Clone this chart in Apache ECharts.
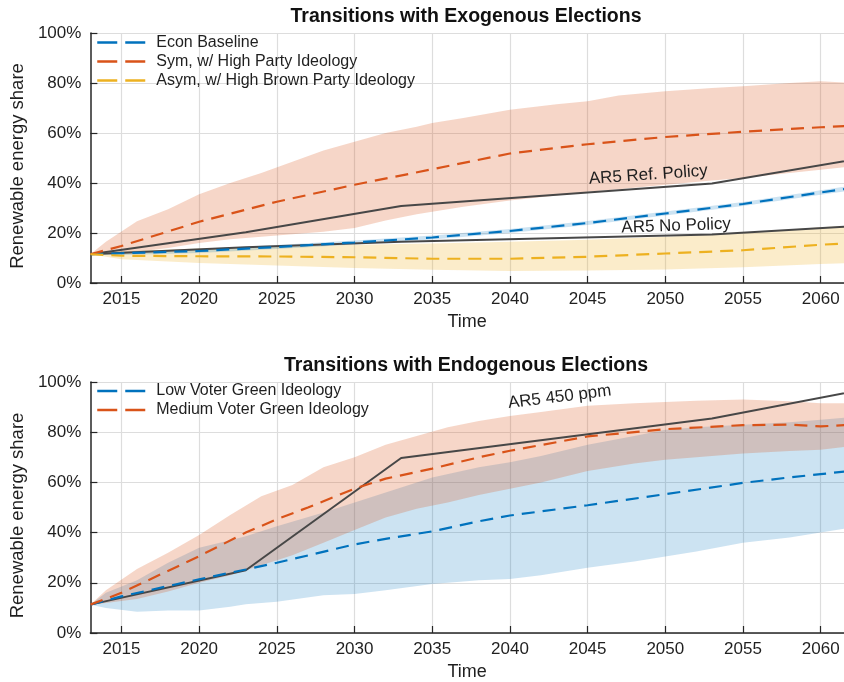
<!DOCTYPE html>
<html>
<head>
<meta charset="utf-8">
<script src="https://cdn.jsdelivr.net/npm/echarts@6/dist/echarts.min.js"></script>
<style>
  html, body { margin: 0; padding: 0; background: #fff; }
  #chart { width: 844px; height: 682px; }
</style>
</head>
<body>
<div id="chart"></div>
<script>
// ---------- Exogenous elections (top panel) ----------
const exoYears       = [2013, 2015, 2020, 2025, 2030, 2035, 2040, 2045, 2050, 2055, 2060, 2062];
const econBaseline   = [11.5, 11.9, 12.8, 14.4, 16.2, 18.2, 20.8, 24.0, 27.8, 31.6, 36.2, 38.0];
const econBaseLo     = [11.5, 11.2, 12.0, 13.6, 15.4, 17.4, 20.0, 23.2, 27.0, 30.8, 35.3, 37.0];
const econBaseHi     = [11.5, 12.6, 13.6, 15.2, 17.0, 19.0, 21.6, 24.8, 28.6, 32.4, 37.1, 39.0];
const symHighParty   = [11.5, 14.8, 24.5, 32.5, 39.3, 45.5, 51.8, 55.5, 58.4, 60.5, 62.3, 62.9];
const asymHighBrown  = [11.5, 10.9, 10.7, 10.6, 10.3, 9.7, 9.7, 10.5, 11.8, 13.1, 15.3, 16.0];

const symBandYears   = [2013, 2014, 2016, 2018, 2020, 2022, 2024, 2026, 2028, 2030, 2032, 2034, 2035, 2037, 2040, 2043, 2045, 2047, 2050, 2053, 2055, 2058, 2060, 2062];
const symBandLo      = [11.5, 12.0, 12.5, 14.0, 16.0, 17.5, 18.5, 19.5, 20.5, 22.0, 25.0, 27.5, 28.5, 30.5, 33.0, 35.0, 36.5, 37.5, 39.3, 41.0, 42.0, 44.0, 45.3, 46.7];
const symBandHi      = [11.5, 16.5, 24.7, 29.5, 35.5, 40.0, 44.0, 48.5, 53.0, 56.5, 60.0, 62.5, 64.0, 66.0, 69.3, 71.5, 72.7, 75.0, 76.7, 78.0, 78.7, 80.0, 80.7, 80.0];

const asymBandYears  = [2013, 2015, 2020, 2025, 2030, 2035, 2040, 2045, 2050, 2055, 2060, 2062];
const asymBandLo     = [11.5, 9.5, 8.0, 7.0, 6.0, 5.3, 4.8, 5.0, 5.4, 6.3, 7.6, 8.0];
const asymBandHi     = [11.5, 12.8, 13.8, 14.5, 15.3, 15.8, 16.5, 17.3, 18.5, 20.0, 22.3, 23.0];

const ar5RefYears    = [2013, 2023, 2033, 2053, 2063];
const ar5RefPolicy   = [11.5, 20.3, 30.8, 39.8, 50.3];
const ar5NoPolicy    = [11.5, 14.3, 16.5, 19.4, 23.0];

// ---------- Endogenous elections (bottom panel) ----------
const endoYears      = [2013, 2015, 2020, 2023, 2025, 2027, 2030, 2032, 2035, 2038, 2040, 2045, 2050, 2055, 2058, 2060, 2062];
const lowVoter       = [11.3, 14.6, 21.4, 25.3, 28.0, 30.9, 35.3, 37.5, 40.5, 44.5, 46.8, 50.9, 55.3, 59.8, 62.0, 63.3, 64.6];
const mediumVoter    = [11.3, 16.0, 30.6, 40.0, 45.3, 50.0, 57.5, 61.5, 65.5, 70.0, 72.6, 78.3, 81.2, 82.8, 83.0, 82.3, 83.0];

const lowBandYears   = [2013, 2014, 2016, 2018, 2020, 2022, 2023, 2025, 2028, 2030, 2032, 2035, 2038, 2040, 2042, 2045, 2048, 2050, 2052, 2055, 2058, 2060, 2062];
const lowBandLo      = [11.3, 10.0, 8.5, 9.0, 9.0, 10.5, 11.5, 12.5, 15.0, 15.5, 17.0, 19.5, 21.0, 21.5, 23.0, 26.0, 28.5, 30.5, 32.5, 36.0, 38.0, 40.0, 42.0];
const lowBandHi      = [11.3, 16.0, 21.0, 28.0, 34.0, 37.0, 38.5, 42.5, 48.0, 52.0, 56.0, 62.0, 66.0, 68.0, 70.5, 75.0, 78.5, 81.0, 82.0, 83.0, 84.0, 85.0, 86.0];

const medBandYears   = [2013, 2014, 2016, 2018, 2020, 2022, 2024, 2026, 2028, 2030, 2032, 2034, 2036, 2038, 2040, 2042, 2045, 2048, 2050, 2052, 2055, 2058, 2060, 2062];
const medBandLo      = [11.3, 12.0, 13.5, 16.5, 20.0, 23.0, 27.0, 31.0, 36.0, 41.0, 46.0, 49.5, 52.0, 55.0, 57.5, 60.0, 64.5, 67.5, 69.0, 70.0, 71.5, 72.5, 73.0, 74.5];
const medBandHi      = [11.3, 17.0, 25.5, 32.0, 39.0, 47.0, 54.5, 59.0, 66.0, 70.0, 75.0, 78.5, 82.0, 84.5, 86.5, 88.0, 90.5, 91.5, 92.0, 92.5, 93.0, 92.3, 91.5, 91.5];

const ar5450Years    = [2013, 2023, 2033, 2053, 2063];
const ar5450ppm      = [11.3, 25.0, 69.7, 85.5, 97.3];

// ---------- Axis ticks ----------
const yearTicks  = [2015, 2020, 2025, 2030, 2035, 2040, 2045, 2050, 2055, 2060];
const shareTicks = [0, 20, 40, 60, 80, 100];

// ---------- Styling ----------
const FONT = 'Liberation Sans, Arial, Helvetica, sans-serif';
const INK = '#1f1f1f';
const AXIS = '#262626';
const GRIDLINE = '#dddddd';
const BLUE = '#0072BD', RED = '#D95319', YELLOW = '#EDB120', DARK = '#474747';
const DASH = [13, 8];

const pairs = (xs, ys) => xs.map((x, i) => [x, ys[i]]);

function band(idx, years, lo, hi, fill, z) {
  return {
    type: 'custom', xAxisIndex: idx, yAxisIndex: idx, silent: true, z: z,
    data: years.map((y, i) => [y, lo[i], hi[i]]),
    encode: { x: 0, y: [1, 2] },
    renderItem: function (params, api) {
      if (params.dataIndex !== 0) return null;
      const pts = [];
      for (let i = 0; i < years.length; i++) pts.push(api.coord([years[i], hi[i]]));
      for (let i = years.length - 1; i >= 0; i--) pts.push(api.coord([years[i], lo[i]]));
      return { type: 'polygon', shape: { points: pts }, style: { fill: fill } };
    }
  };
}

function dashed(idx, name, years, values, color) {
  return {
    type: 'line', name: name, xAxisIndex: idx, yAxisIndex: idx, z: 4,
    data: pairs(years, values), symbol: 'none', showSymbol: false,
    lineStyle: { color: color, width: 2.2, type: DASH },
    itemStyle: { color: color }
  };
}

function reference(idx, name, years, values, labelAt, rotate) {
  return {
    type: 'line', name: name, xAxisIndex: idx, yAxisIndex: idx, z: 3,
    data: pairs(years, values), symbol: 'none', showSymbol: false,
    lineStyle: { color: DARK, width: 2 },
    itemStyle: { color: DARK },
    markPoint: {
      symbol: 'circle', symbolSize: 0, silent: true,
      data: [{ coord: labelAt }],
      label: {
        show: true, position: 'inside', formatter: name, rotate: rotate,
        fontFamily: FONT, fontSize: 17, color: INK
      }
    }
  };
}

function xAxis(idx) {
  return {
    type: 'value', gridIndex: idx, min: 2013, max: 2061.5,
    name: 'Time', nameLocation: 'middle', nameGap: 30,
    nameTextStyle: { fontFamily: FONT, fontSize: 18, color: INK },
    axisLine: { show: true, onZero: false, lineStyle: { color: AXIS, width: 1.5 } },
    axisTick: { show: true, inside: true, length: 7, customValues: yearTicks, lineStyle: { color: AXIS, width: 1.2 } },
    axisLabel: { customValues: yearTicks, formatter: v => String(v), fontFamily: FONT, fontSize: 17, color: INK, margin: 8 },
    splitLine: { show: true, lineStyle: { color: GRIDLINE, width: 1.2 } }
  };
}

function yAxis(idx) {
  return {
    type: 'value', gridIndex: idx, min: shareTicks[0], max: shareTicks[shareTicks.length - 1], interval: 20,
    name: 'Renewable energy share', nameLocation: 'middle', nameGap: 55,
    nameTextStyle: { fontFamily: FONT, fontSize: 18.5, color: INK, padding: [0, 16, 0, 0] },
    axisLine: { show: true, lineStyle: { color: AXIS, width: 1.5 } },
    axisTick: { show: true, inside: true, length: 7, lineStyle: { color: AXIS, width: 1.2 } },
    axisLabel: { formatter: '{value}%', fontFamily: FONT, fontSize: 17, color: INK, margin: 9 },
    splitLine: { show: true, lineStyle: { color: GRIDLINE, width: 1.2 } }
  };
}

function legend(top, names) {
  return {
    orient: 'vertical', left: 96, top: top, padding: 0,
    itemWidth: 48, itemHeight: 14, itemGap: 3,
    data: names, selectedMode: false,
    itemStyle: { color: 'rgba(0,0,0,0)', opacity: 0, borderWidth: 0 },
    lineStyle: { type: [20, 8], width: 2.5 },
    textStyle: { fontFamily: FONT, fontSize: 16, color: INK, padding: [0, 0, 0, 6] }
  };
}

const chart = echarts.init(document.getElementById('chart'), null, { renderer: 'canvas' });

chart.setOption({
  animation: false,
  backgroundColor: '#ffffff',
  grid: [
    { left: 89, right: 0, top: 33, height: 250 },
    { left: 89, right: 0, top: 382, height: 251 }
  ],
  xAxis: [xAxis(0), xAxis(1)],
  yAxis: [yAxis(0), yAxis(1)],
  legend: [
    legend(34.5, ['Econ Baseline', 'Sym, w/ High Party Ideology', 'Asym, w/ High Brown Party Ideology']),
    legend(383, ['Low Voter Green Ideology', 'Medium Voter Green Ideology'])
  ],
  graphic: [
    { type: 'text', x: 466, y: 17, style: { text: 'Transitions with Exogenous Elections', font: 'bold 19.5px ' + FONT, fill: '#111', textAlign: 'center', textVerticalAlign: 'middle' } },
    { type: 'text', x: 466, y: 366, style: { text: 'Transitions with Endogenous Elections', font: 'bold 19.5px ' + FONT, fill: '#111', textAlign: 'center', textVerticalAlign: 'middle' } }
  ],
  series: [
    band(0, symBandYears, symBandLo, symBandHi, 'rgba(217,83,25,0.24)', 1),
    band(0, asymBandYears, asymBandLo, asymBandHi, 'rgba(237,177,32,0.24)', 1),
    band(0, exoYears, econBaseLo, econBaseHi, 'rgba(0,114,189,0.2)', 1),
    reference(0, 'AR5 Ref. Policy', ar5RefYears, ar5RefPolicy, [2048.9, 43.2], 4),
    reference(0, 'AR5 No Policy', ar5RefYears, ar5NoPolicy, [2050.7, 22.8], 2),
    dashed(0, 'Econ Baseline', exoYears, econBaseline, BLUE),
    dashed(0, 'Sym, w/ High Party Ideology', exoYears, symHighParty, RED),
    dashed(0, 'Asym, w/ High Brown Party Ideology', exoYears, asymHighBrown, YELLOW),

    band(1, lowBandYears, lowBandLo, lowBandHi, 'rgba(0,114,189,0.2)', 1),
    band(1, medBandYears, medBandLo, medBandHi, 'rgba(217,83,25,0.24)', 1),
    reference(1, 'AR5 450 ppm', ar5450Years, ar5450ppm, [2043.2, 94.0], 7),
    dashed(1, 'Low Voter Green Ideology', endoYears, lowVoter, BLUE),
    dashed(1, 'Medium Voter Green Ideology', endoYears, mediumVoter, RED)
  ]
});
</script>
</body>
</html>
